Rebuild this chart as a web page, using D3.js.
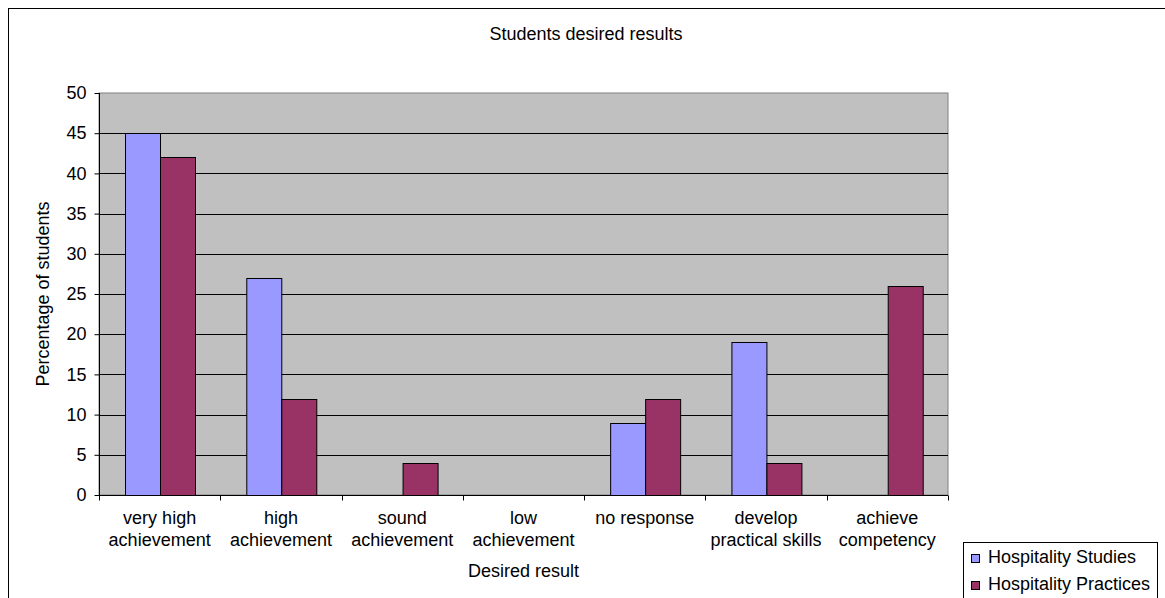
<!DOCTYPE html>
<html>
<head>
<meta charset="utf-8">
<script src="https://cdn.jsdelivr.net/npm/d3@7"></script>
<style>
  body { margin: 0; background: #fff; }
  svg { font-family: "Liberation Sans", Arial, sans-serif; }
</style>
</head>
<body>
<svg id="chart" width="1165" height="598"></svg>
<script>
// chart data
const categories = [
  'very high achievement',
  'high achievement',
  'sound achievement',
  'low achievement',
  'no response',
  'develop practical skills',
  'achieve competency'
];
const seriesNames = ['Hospitality Studies', 'Hospitality Practices'];
const studiesValues = [45, 27, 0, 0, 9, 19, 0];
const practicesValues = [42, 12, 4, 0, 12, 4, 26];
const yTicks = [0, 5, 10, 15, 20, 25, 30, 35, 40, 45, 50];

const colors = ['#9999FF', '#993366'];

// plot area
const plot = { left: 99, right: 948, top: 93, bottom: 495 };

const svg = d3.select('#chart');

// outer chart border (runs past the right and bottom edges)
svg.append('rect')
  .attr('x', 8.5).attr('y', 8.5)
  .attr('width', 1300).attr('height', 800)
  .attr('fill', '#fff')
  .attr('stroke', '#000');

const x = d3.scaleBand()
  .domain(categories)
  .range([plot.left, plot.right])
  .padding(0);

const xInner = d3.scaleBand()
  .domain(seriesNames)
  .range([0, x.bandwidth()])
  .paddingInner(0)
  .paddingOuter(0.75);

const y = d3.scaleLinear()
  .domain([0, 50])
  .range([plot.bottom, plot.top]);

// plot background
svg.append('rect')
  .attr('x', plot.left).attr('y', plot.top)
  .attr('width', plot.right - plot.left)
  .attr('height', plot.bottom - plot.top)
  .attr('fill', '#C0C0C0')
  .attr('stroke', '#808080');

// gridlines
svg.append('g')
  .selectAll('line')
  .data(yTicks.filter(d => d > 0 && d < 50))
  .enter().append('line')
  .attr('x1', plot.left).attr('x2', plot.right)
  .attr('y1', d => Math.round(y(d)) + 0.5)
  .attr('y2', d => Math.round(y(d)) + 0.5)
  .attr('stroke', '#000');

// bars
const rows = categories.map((c, i) => ({
  category: c,
  values: [
    { key: seriesNames[0], value: studiesValues[i], color: colors[0] },
    { key: seriesNames[1], value: practicesValues[i], color: colors[1] }
  ]
}));

svg.append('g')
  .selectAll('g')
  .data(rows)
  .enter().append('g')
  .attr('transform', d => `translate(${x(d.category)},0)`)
  .selectAll('rect')
  .data(d => d.values.filter(v => v.value > 0))
  .enter().append('rect')
  .attr('x', d => Math.round(xInner(d.key)) + 0.5)
  .attr('y', d => Math.round(y(d.value)) + 0.5)
  .attr('width', Math.round(xInner.bandwidth()))
  .attr('height', d => Math.round(y(0)) - Math.round(y(d.value)))
  .attr('fill', d => d.color)
  .attr('stroke', '#000');

// y axis
const yAxis = svg.append('g')
  .attr('transform', `translate(${plot.left + 0.5},0)`)
  .call(d3.axisLeft(y).tickValues(yTicks).tickSize(5).tickPadding(8).tickFormat(d3.format('d')));
yAxis.selectAll('text').attr('font-size', 18).attr('fill', '#000').attr('font-family', null);
yAxis.selectAll('line').attr('stroke', '#000');
yAxis.select('.domain').attr('stroke', '#000').attr('d', `M0,${plot.top}V${plot.bottom + 0.5}`);

// x axis
const xAxis = svg.append('g')
  .attr('transform', `translate(0,${plot.bottom + 0.5})`);
xAxis.append('line')
  .attr('x1', plot.left).attr('x2', plot.right)
  .attr('stroke', '#000');
xAxis.selectAll('.tick')
  .data(categories.map(c => x(c)).concat([plot.right]))
  .enter().append('line')
  .attr('class', 'tick')
  .attr('x1', d => Math.round(d) + 0.5).attr('x2', d => Math.round(d) + 0.5)
  .attr('y1', 0).attr('y2', 5)
  .attr('stroke', '#000');

// category labels, wrapped to the band width
const labels = svg.append('g')
  .selectAll('text')
  .data(categories)
  .enter().append('text')
  .attr('x', d => x(d) + x.bandwidth() / 2)
  .attr('y', 524)
  .attr('text-anchor', 'middle')
  .attr('font-size', 18)
  .attr('fill', '#000')
  .text(d => d);

labels.each(function (d) {
  const text = d3.select(this);
  const words = d.split(' ');
  const cx = x(d) + x.bandwidth() / 2;
  text.text(null);
  let line = [];
  let lineNo = 0;
  let tspan = text.append('tspan').attr('x', cx).attr('dy', 0);
  words.forEach(w => {
    line.push(w);
    tspan.text(line.join(' '));
    if (tspan.node().getComputedTextLength() > x.bandwidth() - 4 && line.length > 1) {
      line.pop();
      tspan.text(line.join(' '));
      line = [w];
      lineNo++;
      tspan = text.append('tspan').attr('x', cx).attr('dy', 22).text(w);
    }
  });
});

// titles
svg.append('text')
  .attr('x', 586).attr('y', 40)
  .attr('text-anchor', 'middle')
  .attr('font-size', 18)
  .text('Students desired results');

svg.append('text')
  .attr('x', (plot.left + plot.right) / 2).attr('y', 577)
  .attr('text-anchor', 'middle')
  .attr('font-size', 18)
  .text('Desired result');

svg.append('text')
  .attr('transform', `translate(49,${(plot.top + plot.bottom) / 2}) rotate(-90)`)
  .attr('text-anchor', 'middle')
  .attr('font-size', 18)
  .text('Percentage of students');

// legend
const legend = svg.append('g');
legend.append('rect')
  .attr('x', 963.5).attr('y', 542.5)
  .attr('width', 194).attr('height', 80)
  .attr('fill', '#fff')
  .attr('stroke', '#000');

const item = legend.selectAll('g.item')
  .data(seriesNames)
  .enter().append('g')
  .attr('class', 'item')
  .attr('transform', (d, i) => `translate(971,${554 + i * 27})`);

item.append('rect')
  .attr('x', 0.5).attr('y', 0.5)
  .attr('width', 8).attr('height', 8)
  .attr('fill', (d, i) => colors[i])
  .attr('stroke', '#000');

item.append('text')
  .attr('x', 17).attr('y', 9)
  .attr('font-size', 18)
  .text(d => d);
</script>
</body>
</html>
